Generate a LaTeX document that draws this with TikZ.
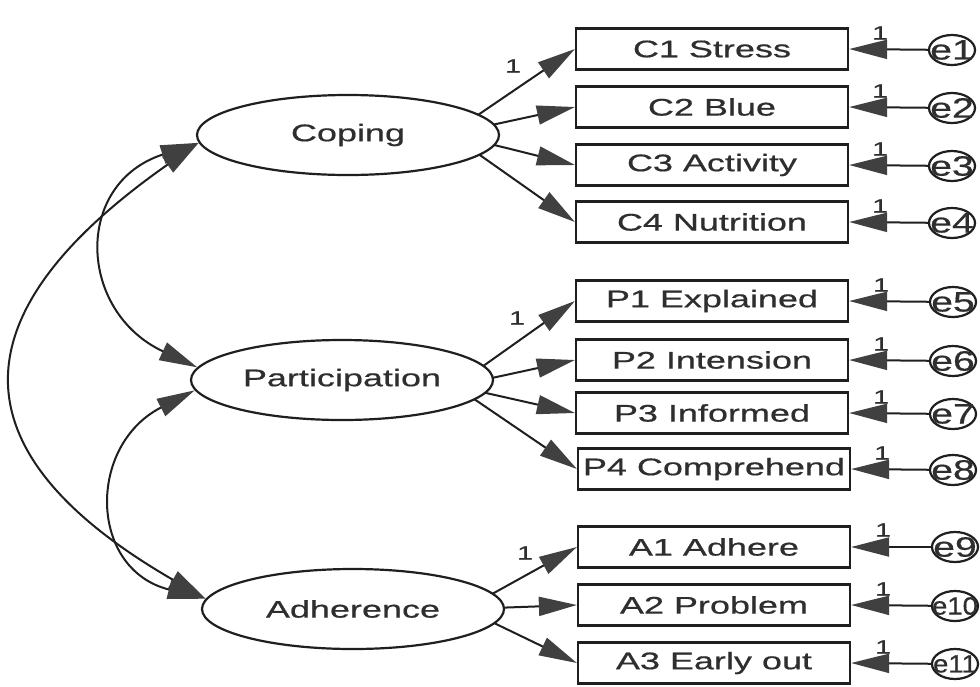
\documentclass[tikz,border=0pt]{standalone}
\usepackage{fontspec}
\setmainfont{Liberation Sans}[FakeStretch=1.5,FakeBold=0.6]
\newfontfamily\efont{Liberation Sans}[FakeStretch=1.4,FakeBold=0.6]
\newfontfamily\enarrow{Liberation Sans}[FakeStretch=1.1,FakeBold=0.6]
\usetikzlibrary{arrows.meta,shapes.geometric}
\begin{document}
\begin{tikzpicture}[x=1pt,y=1pt,
  ink/.style={draw=black!88, line width=2.2pt},
  obs/.style={ink, rectangle, minimum width=272pt, minimum height=41pt, inner sep=0pt,
    font=\fontsize{24}{28}\selectfont, text=black!82},
  lat/.style={ink, ellipse, minimum width=302pt, minimum height=80pt, inner sep=0pt,
    fill=white, font=\fontsize{24}{28}\selectfont, text=black!82},
  err/.style={ink, ellipse, minimum width=46pt, minimum height=30pt, inner sep=0pt,
    font=\efont\fontsize{28}{30}\selectfont, text=black!82},
  one/.style={font=\fontsize{19}{20}\selectfont, inner sep=0pt, text=black!82},
  head/.tip={Triangle[length=38pt,width=19pt,color=black!75]},
  arr/.style={draw=black!88, line width=2pt, -head},
  biarr/.style={draw=black!88, line width=2pt, head-head}
]
\useasboundingbox (0,0) rectangle (980,-686);
\fill[white] (0,0) rectangle (980,-686);

% observed variables
\node[obs] (c1) at (712,-49)  {C1 Stress};
\node[obs] (c2) at (712,-107) {C2 Blue};
\node[obs] (c3) at (712,-165) {C3 Activity};
\node[obs] (c4) at (712,-222) {C4 Nutrition};
\node[obs] (p1) at (712,-301) {P1 Explained};
\node[obs] (p2) at (712,-360) {P2 Intension};
\node[obs] (p3) at (712,-413) {P3 Informed};
\node[obs] (p4) at (714,-469) {P4 Comprehend};
\node[obs] (a1) at (714,-547) {A1 Adhere};
\node[obs] (a2) at (714,-605) {A2 Problem};
\node[obs] (a3) at (714,-663) {A3 Early out};

% error terms
\node[err] (e1)  at (952,-50)  {\makebox[0pt]{e1}};
\node[err] (e2)  at (952,-108) {\makebox[0pt]{e2}};
\node[err] (e3)  at (952,-166) {\makebox[0pt]{e3}};
\node[err] (e4)  at (952,-223) {\makebox[0pt]{e4}};
\node[err] (e5)  at (953,-302) {\makebox[0pt]{e5}};
\node[err] (e6)  at (953,-361) {\makebox[0pt]{e6}};
\node[err] (e7)  at (953,-414) {\makebox[0pt]{e7}};
\node[err] (e8)  at (953,-470) {\makebox[0pt]{e8}};
\node[err] (e9)  at (955,-547) {\makebox[0pt]{e9}};
\node[err] (e10) at (955,-606) {\makebox[0pt]{\enarrow\fontsize{25}{27}\selectfont e10}};
\node[err] (e11) at (955,-664) {\makebox[0pt]{\enarrow\fontsize{25}{27}\selectfont e11}};

% sources of loading arrows (hidden inside the ellipses)
\coordinate (cs) at (450,-134);
\coordinate (ps) at (455,-386);
\coordinate (as) at (465,-609);

\foreach \t in {c1,c2,c3,c4} \draw[arr] (cs) -- (\t.west);
\foreach \t in {p1,p2,p3,p4} \draw[arr] (ps) -- (\t.west);
\foreach \t in {a1,a2,a3} \draw[arr] (as) -- (\t.west);

% latent variables
\node[lat] (coping) at (348,-135) {Coping};
\node[lat] (part)   at (342,-380) {Participation};
\node[lat] (adh)    at (353,-609) {Adherence};

% covariances
\draw[biarr] (coping.183) .. controls +(198:132) and +(155:132) .. (part.175);
\draw[biarr] (coping.183) .. controls +(215:295) and +(150:295) .. (adh.176);
\draw[biarr] (part.184) .. controls +(207:121) and +(166:121) .. (adh.176);

% error arrows
\foreach \e/\t in {e1/c1,e2/c2,e3/c3,e4/c4,e5/p1,e6/p2,e7/p3,e8/p4,e9/a1,e10/a2,e11/a3}
  \draw[arr] (\e) -- (\t.east);

% loading labels
\node[one] (l1) at (513,-66)  {1};
\node[one] (l2) at (517,-318) {1};
\node[one] (l3) at (525,-553) {1};

% error labels
\node[one] (m1)  at (880,-33)  {1};
\node[one] (m2)  at (880,-91)  {1};
\node[one] (m3)  at (880,-149) {1};
\node[one] (m4)  at (880,-206) {1};
\node[one] (m5)  at (881,-285) {1};
\node[one] (m6)  at (881,-344) {1};
\node[one] (m7)  at (881,-397) {1};
\node[one] (m8)  at (882,-453) {1};
\node[one] (m9)  at (883,-530) {1};
\node[one] (m10) at (883,-589) {1};
\node[one] (m11) at (883,-647) {1};
\end{tikzpicture}
\end{document}
